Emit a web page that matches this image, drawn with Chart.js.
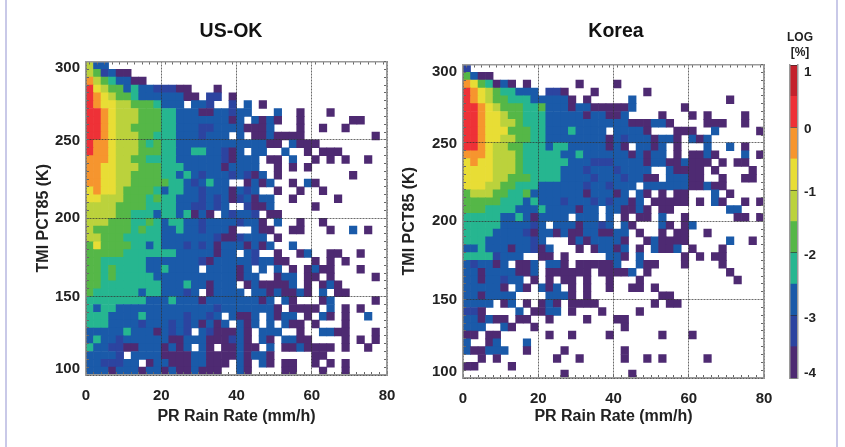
<!DOCTYPE html>
<html>
<head>
<meta charset="utf-8">
<title>TMI PCT85 vs PR Rain Rate</title>
<script src="https://cdn.jsdelivr.net/npm/chart.js@4/dist/chart.umd.min.js"></script>
<style>
html,body{margin:0;padding:0;background:#fff;width:845px;height:447px;overflow:hidden}
canvas{position:absolute;filter:blur(.7px)}
.rule{position:absolute;top:0;bottom:0;width:1.5px;background:#c9c9e8}
</style>
</head>
<body>
<div class="rule" style="left:5px"></div>
<div class="rule" style="left:836px"></div>
<canvas id="us" style="left:0;top:0"></canvas>
<canvas id="kr" style="left:400px;top:0"></canvas>
<canvas id="cb" style="left:760px;top:0"></canvas>
<script>
// Colour class per cell, top row (295-300 K) first, column 0 = 0-2 mm/h. 0 = empty.
// Spaces are only for reading.
const usOkRows = [
"633",
"652311",
"86543311",
"97655343322211 0001",
"98765543333331 102201",
"987766555433303320 020301",
"998766655544333113 323300030010001",
"998766655544333333 3130313100 1000000 11",
"998766555544333223 33311130001001001",
"998766655444333233 30301131111 000000000 1",
"988766654544333333 333333 1103111",
"988766655544334433 2130330030010111",
"888766554444333333 21333011030010101001",
"887766655544433333 133330010101",
"887766555544343233 32321301 000000000 1",
"887766555554432343 3001313001031",
"787765555434433233 31323001001001",
"776665554544333232 3123133001 00000 1",
"666655554444332232 3002113 00000 1",
"666655444344341310 32332011",
"666555445434433233 33233103001001",
"655555454433433233 31003110011000100301",
"665554444433333332 11233301",
"575555443433323231 3331313003",
"555554444444333331 33032 00100 13 00 11 00 1",
"554444443333333213 33332331100010101",
"554544443343333033 3313030301013110001",
"554544444333333333 331330013301101 00000 1",
"554444444433343313 3301311113010131",
"544444434433323013 33303313113103011",
"444444443334333133 333331303100013000001",
"434433333333333332 3333333 10 1111 0 3 0 1 0 1",
"444333343333323323 03113031330103101003",
"444333323332323131 30313030311010001",
"333334333132320321 113103330010033110001",
"343323333331133311 123103103311000010101",
"433221133313130310 11311030113111101001",
"333320333311113311 1131331 00000 11",
"332223301331113311 10310310110010101",
"333133313313113111 0031 0000 11 000 1 00 1"
];
const koreaRows = [
"2",
"5311",
"875413101 000000 1 0000 1",
"987654433302210001 000000 1",
"98765544433333101 00000 3 000000000000 1",
"9987655544533313311 1113 000000 1",
"9987765544433333133 113 0000 1 000 1 0 1 0000 1",
"9987766544433333333 333111331 0000 111 00 1",
"99877755544333433330 3333 1 000 111 00 3 00000 1",
"99877665544333333331 3233313310313",
"99876655444344333331 310331301 000 3 00 3 0 1",
"88876665444443343333 331313301 0 1131 000 3 0 1",
"78776665444444333222 333313311 3111 0 1 0 11",
"77776665444443332333 2333300 3 1111 0 1 0000 1",
"77776655544443333233 3233110 333 11 00 1 00 11",
"77766554443333332332 3330 333333 11 3 11",
"56665544533333331333 13031010 11 000 3 0 1",
"55555444343332333232 33130 11111 0 1 0 31 00 1 0 1",
"55544443334333313303 31131011 0000000 33",
"44444334313333033303 010110 3 00 1 000000 11 0 1",
"44444333323033313323 031 000 31 0 13",
"44443333213313113311 3301 00 1 0 11 00 1",
"44433333323000131333 31 00 1 3 1111 00000 3 00 1",
"33433313321300010133 13010311301 000 1",
"44442333001101000003 3103 00000 1 0 1 0 11",
"32331301130331011111 3 00 3 11 000 1 0000 1",
"33133331130111111011 11301 0000000000 1",
"33133233010101101001 000 1 000000000000 1",
"33333103103130101001 00 11 0 1",
"33133330000333101000 000000 11",
"33330130101310111100 00000 1 0 11",
"22100003011330100010 000 1",
"33131101100100001000 11",
"3330031001 00000000000 1",
"11011 000000 1 00 1 0000 1 000000 1 000 1",
"300130003",
"31133300100001 0000000 1",
"00101 0000000 1 00 1 00000 1 00 1 0 1 00000 1",
"1100001",
"0000000000000 1 00000000 1"
];
const binWidth = 2;          // mm/h
const binHeight = 5;         // K
const rainRange = [0, 80];
const tempRange = [100, 300];
const colourBounds = [-4, -3.5, -3, -2.5, -2, -1.5, -1, -0.5, 0, 0.5, 1];
const palette = ["#4e2a72","#2c44a0","#1a5aa9","#26b690","#55b747","#bbd23c","#e8dd35","#f6952e","#ee3137","#c4222c"];
const axisFont = '"Liberation Sans", Arial, sans-serif';
const bold = size => ({family: axisFont, weight: 'bold', size: size});
const ink = '#222';
const frame = '#9a9a9a';
const gridInk = 'rgba(50,50,50,.72)';

function cells(rows) {
  const data = [], colours = [];
  rows.forEach((row, r) => {
    [...row.replace(/ /g, '')].forEach((ch, c) => {
      const cls = +ch;
      if (!cls) return;
      const top = tempRange[1] - r * binHeight;
      data.push({x: c * binWidth + binWidth / 2, y: [top - binHeight, top]});
      colours.push(palette[cls - 1]);
    });
  });
  return {data, colours};
}

// Moves the tick labels that the library has laid out: the end labels sit inside the frame.
const labelNudge = {
  id: 'labelNudge',
  beforeDraw(chart, args, opts) {
    const s = chart.scales.y;
    s.getLabelItems(chart.chartArea).forEach(item => {
      const d = opts.shift[item.label];
      if (d) item.options.translation = [item.options.translation[0], item.options.translation[1] + d];
    });
  }
};

function panel(id, title, rows, g) {
  const cv = document.getElementById(id);
  cv.width = g.width; cv.height = 447;
  cv.style.width = g.width + 'px'; cv.style.height = '447px';
  const {data, colours} = cells(rows);
  const fixW = w => s => { s.width = w; };
  const fixH = h => s => { s.height = h; };
  const gridCol = step => ctx => ctx.tick.value % step === 0 ? gridInk : 'rgba(0,0,0,0)';
  const common = step => ({
    z: 1, color: gridCol(step), lineWidth: 1, drawTicks: true, tickLength: -3,
    tickColor: '#666', tickWidth: 1
  });
  const edge = {display: true, color: frame, width: 1.5, dash: [2, 1], z: 1};
  new Chart(cv, {
    type: 'bar',
    data: {datasets: [{data, backgroundColor: colours, borderWidth: 0, barPercentage: 1, categoryPercentage: 1}]},
    plugins: [labelNudge],
    options: {
      responsive: false, animation: false, events: [],
      layout: {autoPadding: false, padding: 0},
      plugins: {
        legend: {display: false}, tooltip: {enabled: false},
        labelNudge: {shift: g.shift},
        title: {display: true, text: title, color: '#111', font: bold(19.5), padding: {top: 20, bottom: 0}}
      },
      scales: {
        x: {
          type: 'linear', position: 'bottom', min: rainRange[0], max: rainRange[1], offset: false,
          grid: Object.assign(common(20), {offset: false}), border: edge,
          ticks: {stepSize: 2, autoSkip: false, maxRotation: 0, color: ink, font: bold(15), padding: 15,
                  callback: v => v % 20 === 0 ? String(v) : ''},
          title: {display: true, text: 'PR Rain Rate (mm/h)', color: ink, font: bold(16), padding: {top: 0, bottom: 21}},
          afterFit: fixH(447 - g.bottom)
        },
        y: {
          type: 'linear', position: 'left', min: tempRange[0], max: tempRange[1],
          grid: common(50), border: edge,
          ticks: {stepSize: 5, autoSkip: false, color: ink, font: bold(15), padding: 9,
                  callback: v => v % 50 === 0 ? String(v) : ''},
          title: {display: true, text: 'TMI PCT85 (K)', color: ink, font: bold(16), padding: {top: g.yTitle, bottom: 0}},
          afterFit: fixW(g.left)
        },
        x2: {
          type: 'linear', position: 'top', min: rainRange[0], max: rainRange[1], offset: false,
          grid: {z: 1, drawOnChartArea: false, tickLength: -3, tickColor: '#666', tickWidth: 1}, border: {color: frame, width: 1.5, z: 1},
          ticks: {stepSize: 2, autoSkip: false, display: false},
          afterFit: s => { s.height = g.top - s.chart.titleBlock.height; }
        },
        y2: {
          type: 'linear', position: 'right', min: tempRange[0], max: tempRange[1],
          grid: {z: 1, drawOnChartArea: false, tickLength: -3, tickColor: '#666', tickWidth: 1}, border: {color: frame, width: 1.5, z: 1},
          ticks: {stepSize: 5, autoSkip: false, display: false},
          afterFit: fixW(g.width - g.right)
        }
      }
    }
  });
}

panel('us', 'US-OK', usOkRows, {width: 462, left: 86, right: 387, top: 61.5, bottom: 375, yTitle: 34, shift: {'300': 6.5, '250': 1, '100': -6}});
panel('kr', 'Korea', koreaRows, {width: 432, left: 63, right: 364, top: 64.5, bottom: 378, yTitle: 0, shift: {'300': 7, '250': 1, '100': -6}});

// Colour bar
(function () {
  const cv = document.getElementById('cb');
  cv.width = 80; cv.height = 447;
  cv.style.width = '80px'; cv.style.height = '447px';
  const segments = palette.map((_, i) => [colourBounds[i], colourBounds[i + 1]]);
  new Chart(cv, {
    type: 'bar',
    data: {labels: ['LOG'], datasets: segments.map((seg, i) => ({
      data: [seg], backgroundColor: palette[i], borderWidth: 0, grouped: false, barPercentage: 1, categoryPercentage: 1
    }))},
    plugins: [labelNudge],
    options: {
      responsive: false, animation: false, events: [],
      layout: {autoPadding: false, padding: {left: 0, right: 0, top: 0, bottom: 69}},
      plugins: {
        legend: {display: false}, tooltip: {enabled: false},
        labelNudge: {shift: {'1': 7, '0': 1.5, '-1': 2, '-2': 2, '-3': 2.5, '-4': -5}},
        title: {display: true, text: ['LOG', '[%]'], color: ink, font: Object.assign(bold(12), {lineHeight: 1.25}), padding: {top: 30, bottom: 5}}
      },
      scales: {
        x: {display: false},
        y: {
          type: 'linear', position: 'right', min: colourBounds[0], max: colourBounds[10],
          grid: {z: 1, color: 'rgba(40,40,40,.6)', lineWidth: 1, tickLength: -2, tickColor: 'rgba(0,0,0,0)'},
          border: {color: frame, width: 1.5, z: 1},
          ticks: {stepSize: 1, color: ink, font: bold(13.5), padding: 8},
          afterFit: s => { s.width = 42; }
        },
        y2: {
          type: 'linear', position: 'left', min: colourBounds[0], max: colourBounds[10],
          grid: {display: false}, border: {color: frame, width: 1.5, z: 1}, ticks: {display: false},
          afterFit: s => { s.width = 30; }
        }
      }
    }
  });
})();
</script>
</body>
</html>
